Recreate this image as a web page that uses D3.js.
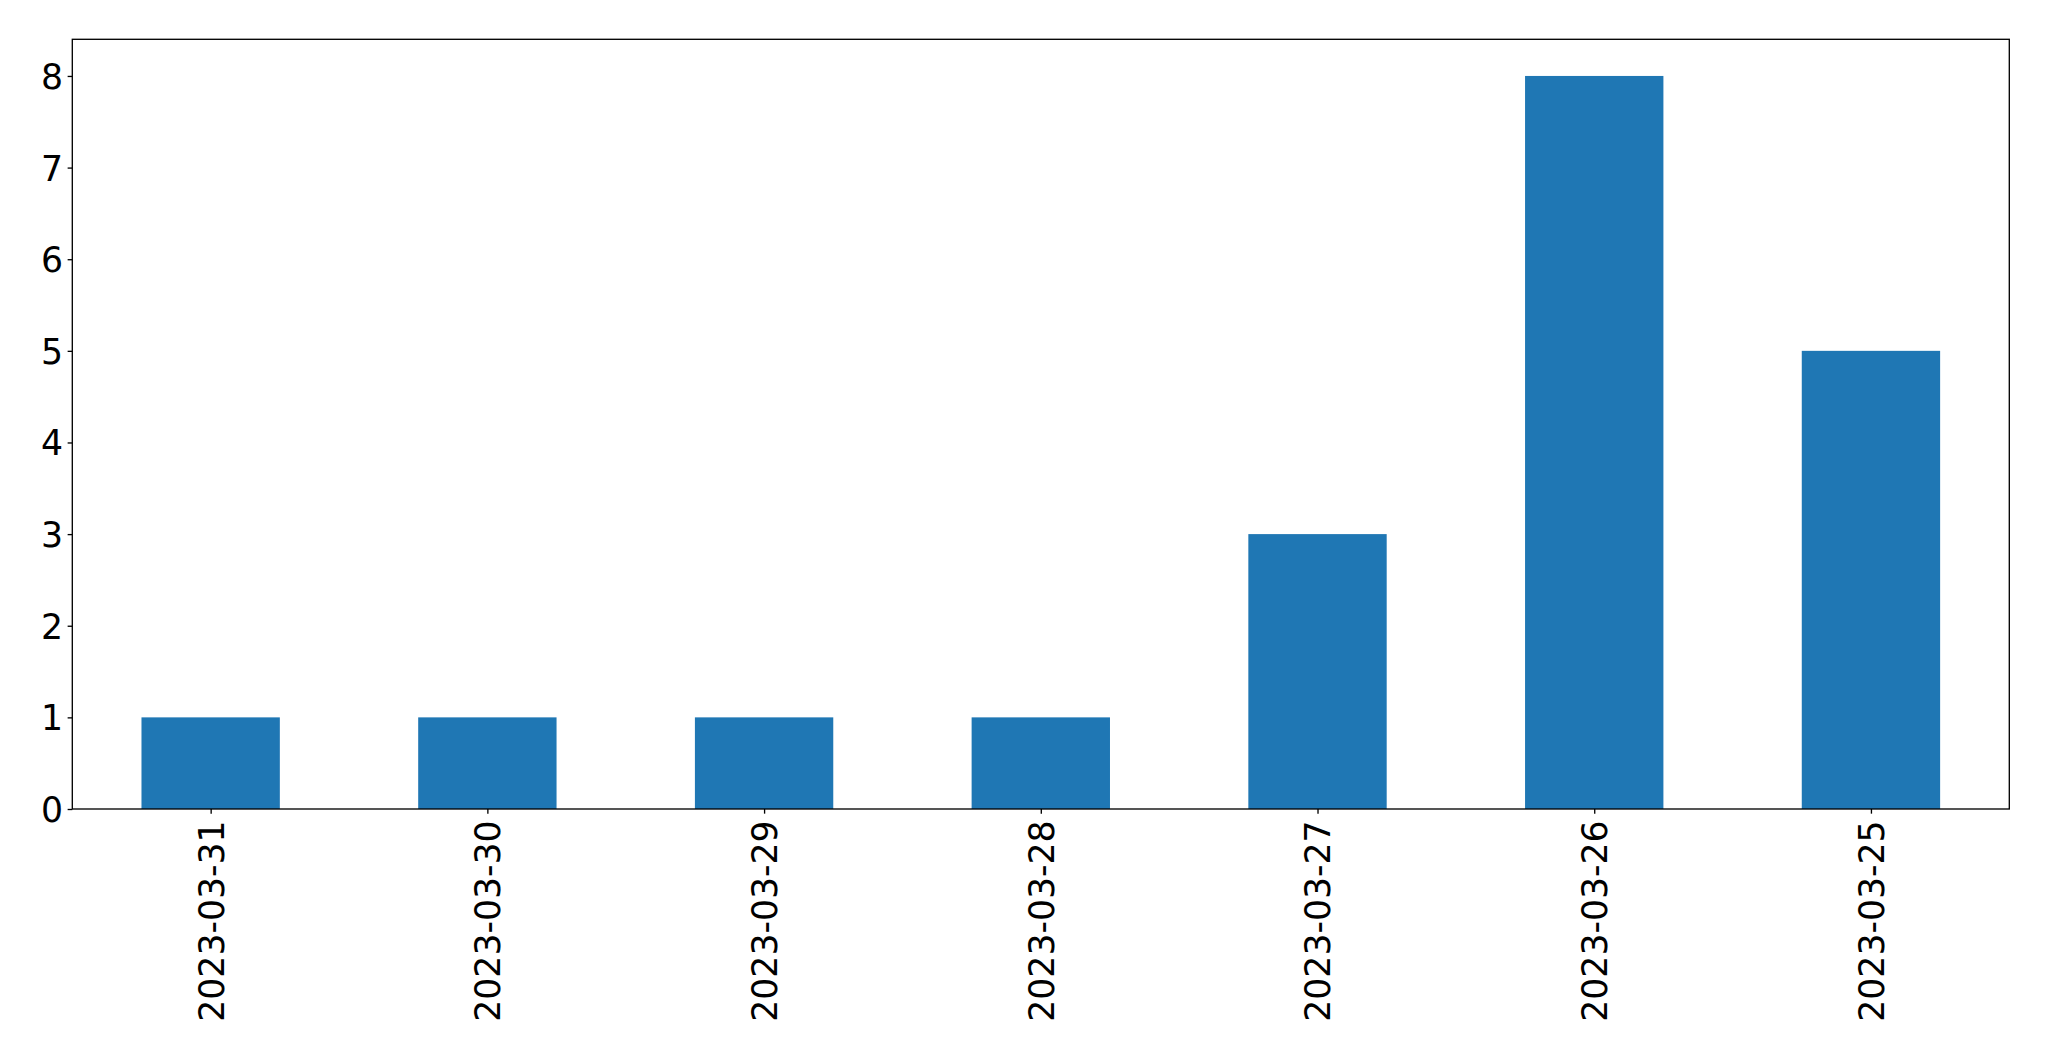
<!DOCTYPE html>
<html>
<head>
<meta charset="utf-8">
<script src="https://cdn.jsdelivr.net/npm/d3@7"></script>
<style>
  html, body { margin: 0; padding: 0; background: #fff; }
  svg { display: block; }
  text { font-family: "DejaVu Sans", sans-serif; fill: #000; }
</style>
</head>
<body>
<script>
const categories = ["2023-03-31", "2023-03-30", "2023-03-29", "2023-03-28", "2023-03-27", "2023-03-26", "2023-03-25"];
const values = [1, 1, 1, 1, 3, 8, 5];
const yTicks = [0, 1, 2, 3, 4, 5, 6, 7, 8];

(function () {
const W = 2049, H = 1061;
const mLeft = 72.3, mRight = 2009.3, mTop = 39.3, mBottom = 809;
const fontSize = 34.67;
const tickLen = 4.67, pad = 4.67;

const svg = d3.select("body").append("svg").attr("width", W).attr("height", H);

const x = d3.scaleLinear().domain([-0.5, categories.length - 0.5]).range([mLeft, mRight]);
const y = d3.scaleLinear().domain([0, 8.4]).range([mBottom, mTop]);
const barW = 0.5;

svg.append("g").selectAll("rect").data(values).join("rect")
  .attr("x", (d, i) => x(i - barW / 2))
  .attr("width", (d, i) => x(i + barW / 2) - x(i - barW / 2))
  .attr("y", d => y(d))
  .attr("height", d => y(0) - y(d))
  .attr("fill", "#1f77b4");

const yAxis = d3.axisLeft(y).tickValues(yTicks).tickFormat(d3.format("d")).tickSize(tickLen).tickPadding(pad);
const gy = svg.append("g").attr("transform", `translate(${mLeft},0)`).call(yAxis);
gy.select(".domain").remove();
gy.selectAll(".tick line").attr("stroke", "#000").attr("stroke-width", 1.33);
gy.selectAll(".tick text").attr("font-size", fontSize).attr("font-family", "DejaVu Sans").attr("dy", "0.36em");

const xAxis = d3.axisBottom(x).tickValues(d3.range(categories.length)).tickFormat(i => categories[i]).tickSize(tickLen).tickPadding(pad);
const gx = svg.append("g").attr("transform", `translate(0,${mBottom})`).call(xAxis);
gx.select(".domain").remove();
gx.selectAll(".tick line").attr("stroke", "#000").attr("stroke-width", 1.33);
gx.selectAll(".tick text")
  .attr("font-size", fontSize)
  .attr("font-family", "DejaVu Sans")
  .attr("text-anchor", "end")
  .attr("dy", "0.36em")
  .attr("y", 0)
  .attr("x", -(tickLen + pad + 2))
  .attr("transform", "rotate(-90)");

svg.append("rect")
  .attr("x", mLeft).attr("y", mTop)
  .attr("width", mRight - mLeft).attr("height", mBottom - mTop)
  .attr("fill", "none").attr("stroke", "#000").attr("stroke-width", 1.33);
})();
</script>
</body>
</html>
